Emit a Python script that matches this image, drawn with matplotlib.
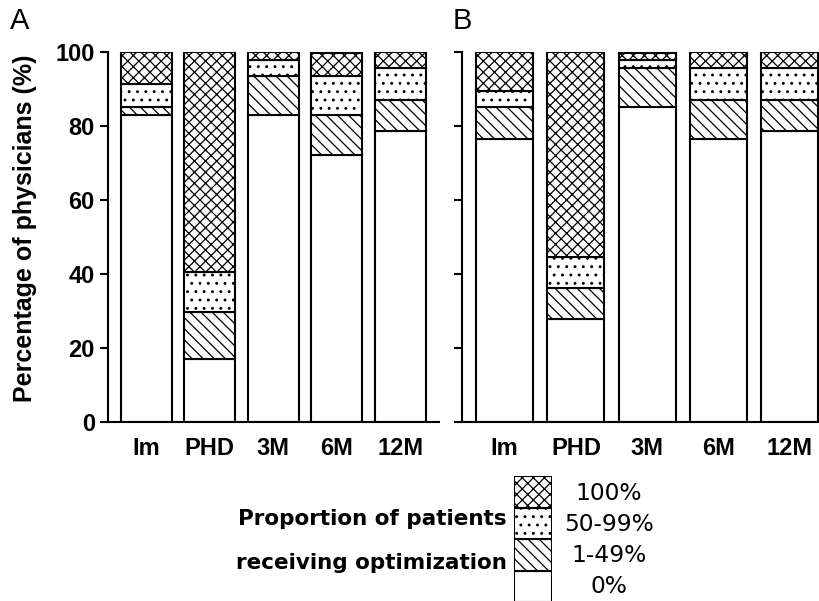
import numpy as np
import matplotlib
matplotlib.use("Agg")
import matplotlib.pyplot as plt

plt.rcParams['font.family'] = ['Liberation Sans', 'DejaVu Sans']
plt.rcParams['hatch.linewidth'] = 0.9

# --------------------------------------------
# Data (percentage of physicians, n = 47)
# --------------------------------------------
timepoints = ["Im", "PHD", "3M", "6M", "12M"]
categories = ["0%", "1-49%", "50-99%", "100%"]

# panel A, one list per category (bottom -> top)
a_zero = [83.0, 17.0, 83.0, 72.3, 78.7]
a_low = [2.1, 12.8, 10.6, 10.6, 8.5]
a_high = [6.4, 10.6, 4.3, 10.6, 8.5]
a_full = [8.5, 59.6, 2.1, 6.4, 4.3]

# panel B
b_zero = [76.6, 27.7, 85.1, 76.6, 78.7]
b_low = [8.5, 8.5, 10.6, 10.6, 8.5]
b_high = [4.3, 8.5, 2.1, 8.5, 8.5]
b_full = [10.6, 55.3, 2.1, 4.3, 4.3]

hatches = ["", "\\\\\\", "..", "xxx"]

# --------------------------------------------
# Figure
# --------------------------------------------
W, H = 820, 601
fig = plt.figure(figsize=(W / 100, H / 100), dpi=100)

def px_axes(x0, y0, x1, y1):
    return fig.add_axes([x0 / W, 1 - y1 / H, (x1 - x0) / W, (y1 - y0) / H])

axA = px_axes(108, 52.3, 439, 421.7)
axB = px_axes(462, 52.3, 833, 421.7)

def stacked(ax, series, show_labels):
    x = np.arange(len(timepoints))
    bottom = np.zeros(len(timepoints))
    for vals, h in zip(series, hatches):
        ax.bar(x, vals, width=0.8, bottom=bottom, color="white",
               edgecolor="black", linewidth=1.5, hatch=h)
        bottom += np.array(vals)
    ax.set_xlim(-0.6, 4.61)
    ax.set_ylim(0, 100)
    ax.set_xticks(x)
    ax.set_xticklabels(timepoints, fontsize=17, fontweight="bold")
    ax.tick_params(axis="x", length=0, pad=11)
    ax.set_yticks([0, 20, 40, 60, 80, 100])
    ax.tick_params(axis="y", length=5.5, width=1.5, pad=4)
    if show_labels:
        ax.set_yticklabels(["0", "20", "40", "60", "80", "100"],
                           fontsize=17, fontweight="bold")
    else:
        ax.set_yticklabels([])
    for s in ["top", "right"]:
        ax.spines[s].set_visible(False)
    for s in ["left", "bottom"]:
        ax.spines[s].set_linewidth(1.5)

stacked(axA, [a_zero, a_low, a_high, a_full], True)
stacked(axB, [b_zero, b_low, b_high, b_full], False)

axA.set_ylabel("Percentage of physicians (%)", fontsize=18, fontweight="bold")
axA.yaxis.set_label_coords(-0.2145, 0.524)

fig.text(10 / W, 1 - 7 / H, "A", fontsize=21, va="top", ha="left")
fig.text(453 / W, 1 - 7 / H, "B", fontsize=21, va="top", ha="left")

# --------------------------------------------
# Legend drawn as a single stacked key
# --------------------------------------------
axL = px_axes(514.3, 476, 552.3, 602.4)
key = [1, 1, 1, 1]
label_base = [593.3, 562.3, 531, 500]   # baselines, px from top
kb = 0
for k, h, lab, yb in zip(key, hatches, categories, label_base):
    axL.bar(0, k, width=1, bottom=kb, color="white", edgecolor="black",
            linewidth=1.5, hatch=h)
    axL.text(2.49, (602.4 - yb) / 126.4, lab, transform=axL.transAxes,
             fontsize=16.8, ha="center", va="baseline", family="DejaVu Sans")
    kb += k
axL.set_xlim(-0.5, 0.5)
axL.set_ylim(0, 4)
axL.axis("off")

axL.text(-0.19, (602.4 - 525) / 126.4, "Proportion of patients",
         transform=axL.transAxes, fontsize=15.5, fontweight="bold",
         ha="right", va="baseline", family="DejaVu Sans")
axL.text(-0.19, (602.4 - 569) / 126.4, "receiving optimization",
         transform=axL.transAxes, fontsize=15.5, fontweight="bold",
         ha="right", va="baseline", family="DejaVu Sans")

fig.savefig("out.png", dpi=100)
